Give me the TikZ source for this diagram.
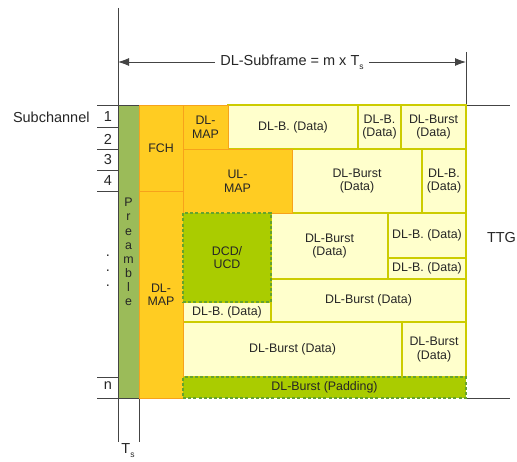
\documentclass[tikz,border=0pt]{standalone}
\usepackage{fontspec}
\setmainfont{Liberation Sans}
\usetikzlibrary{arrows.meta}
\definecolor{preg}{HTML}{9BBB59}
\definecolor{gold}{HTML}{FFCC22}
\definecolor{goldline}{HTML}{F7A21B}
\definecolor{lime}{HTML}{AACC00}
\definecolor{limeline}{HTML}{66A32E}
\definecolor{pale}{HTML}{FFFFCC}
\definecolor{paleline}{HTML}{CCCC00}
\definecolor{axisc}{HTML}{444444}
\newcommand\mybox[7]{\node[#1, anchor=north west, minimum width={(#5-#3)*1pt}, minimum height={(#6-#4)*1pt}] (#2) at (#3,#4) {#7};}
\begin{document}
\begin{tikzpicture}[x=1pt,y=-1pt,
  every node/.style={font=\fontsize{12.4}{13.5}\selectfont, text=black!85, inner sep=0pt, outer sep=0pt, align=center},
  big/.style={font=\fontsize{14.5}{16}\selectfont},
  axisline/.style={draw=axisc, line width=0.9pt},
  preb/.style={fill=preg, draw=axisc, line width=0.6pt},
  orb/.style={fill=gold, draw=goldline, line width=0.9pt},
  grb/.style={fill=lime, draw=limeline, line width=2.2pt, dash pattern=on 3pt off 2.2pt},
  ylb/.style={fill=pale, draw=paleline, line width=2.5pt}]
\useasboundingbox (0,0) rectangle (517,462);
% frame lines
\draw[axisline] (118,8) -- (118,442);
\draw[axisline] (139,398) -- (139,442);
\draw[axisline] (466,52) -- (466,105);
\draw[axisline] (97,105) -- (510,105);
\draw[axisline] (97,398) -- (139,398);
\draw[axisline] (466,398) -- (510,398);
\foreach \yy in {127,149,170,191,377} \draw[axisline] (97,\yy) -- (118,\yy);
% dimension arrow
\coordinate (L) at (118,62);
\coordinate (R) at (466,62);
\draw[axisline, {Latex[length=11pt,width=8pt]}-{Latex[length=11pt,width=8pt]}] (L) -- (R)
  node[midway, fill=white, inner xsep=5pt, inner ysep=2pt, big] (dim) {DL-Subframe = m x T\raisebox{-4pt}{\fontsize{8.5}{9}\selectfont s}};
% labels
\node[big, anchor=west] (subch) at (13,117) {Subchannel};
\node[big] (r1) at (108,117) {1};
\node[big] (r2) at (108,139) {2};
\node[big] (r3) at (108,160) {3};
\node[big] (r4) at (108,181) {4};
\node[big] (d1) at (108,256) {.};
\node[big] (d2) at (108,271) {.};
\node[big] (d3) at (108,286) {.};
\node[big] (rn) at (108,386) {n};
\node[big, anchor=west] (ttg) at (487,238) {TTG};
\node[big] (ts) at (128,451) {T\raisebox{-4pt}{\fontsize{8.5}{9}\selectfont s}};
% preamble
\mybox{preb}{pre}{118}{105}{139}{398}{}
\node[font=\fontsize{12.4}{14.1}\selectfont] (pretxt) at (128.5,252) {P\\r\\e\\a\\m\\b\\l\\e};
% yellow data bursts
\mybox{ylb}{b1}{228}{105}{358}{149}{DL-B. (Data)}
\mybox{ylb}{b2}{358}{105}{401}{149}{DL-B.\\(Data)}
\mybox{ylb}{b3}{401}{105}{466}{149}{DL-Burst\\(Data)}
\mybox{ylb}{b4}{292}{149}{422}{213}{DL-Burst\\(Data)}
\mybox{ylb}{b5}{422}{149}{466}{213}{DL-B.\\(Data)}
\mybox{ylb}{b6}{271}{213}{388}{279}{DL-Burst\\(Data)}
\mybox{ylb}{b7}{388}{213}{466}{258}{DL-B. (Data)}
\mybox{ylb}{b8}{388}{258}{466}{279}{DL-B. (Data)}
\mybox{ylb}{b9}{271}{279}{466}{322}{DL-Burst (Data)}
\mybox{ylb}{b10}{183}{302}{271}{322}{DL-B. (Data)}
\mybox{ylb}{b11}{183}{322}{402}{377}{DL-Burst (Data)}
\mybox{ylb}{b12}{402}{322}{466}{377}{DL-Burst\\(Data)}
% orange control
\mybox{orb}{fch}{139}{105}{183}{191}{FCH}
\mybox{orb}{dlmap}{139}{191}{183}{398}{DL-\\MAP}
\mybox{orb}{dlmap2}{183}{105}{228}{149}{DL-\\MAP}
\mybox{orb}{ulmap}{183}{149}{292}{213}{UL-\\MAP}
% green
\mybox{grb}{dcd}{183}{213}{271}{302}{DCD/\\UCD}
\mybox{grb}{pad}{183}{377}{466}{398}{DL-Burst (Padding)}
\end{tikzpicture}
\end{document}
